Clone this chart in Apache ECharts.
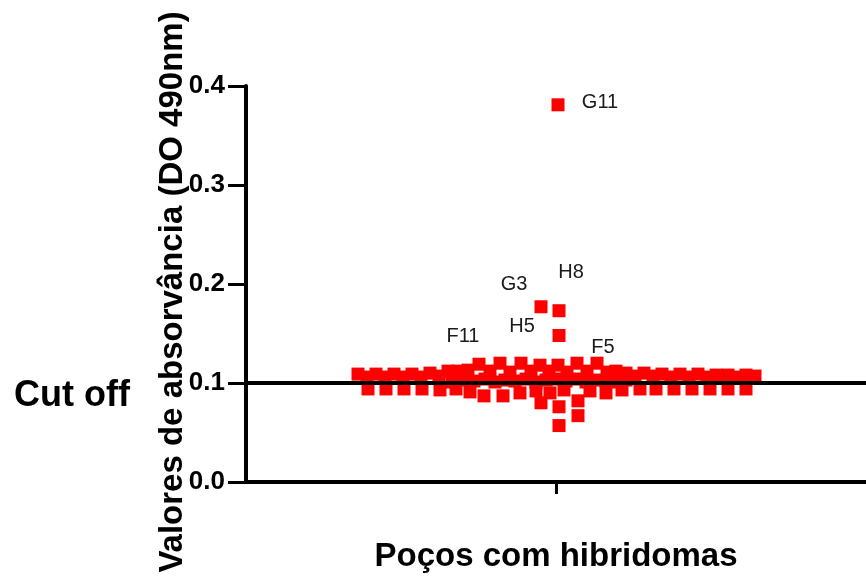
<!DOCTYPE html>
<html>
<head>
<meta charset="utf-8">
<script src="https://cdn.jsdelivr.net/npm/echarts@6/dist/echarts.min.js"></script>
<style>
  html, body { margin: 0; padding: 0; background: #fff; }
  #chart { width: 866px; height: 579px; }
</style>
</head>
<body>
<div id="chart"></div>
<script>
// horizontal spread of each well in the swarm (offset from the centre tick) and its OD reading
const swarmJitter = [
  // left flank, upper row
  -198, -189, -180, -171, -162, -153, -144, -135, -126, -117, -108,
  // left flank, lower row
  -188, -170, -152, -134, -116,
  // centre, top
  -56, -35, -16, 2, 21,
  // centre, upper
  -98, -88, -66, -46, -25, -7, 11, 31, 51, 60,
  // centre, middle
  -104, -93, -82, -71, -61, -51, -41, -30, -20, -10, 0, 10, 20, 30, 40, 50, 60, 70,
  // centre, lower
  -100, -86, -72, -53, -36, -20, -6, 8, 34, 50, 66, 84,
  // below the band
  -15, 3, 3, 22, 22,
  // right flank, upper row
  70, 79, 88, 97, 106, 115, 124, 133, 142, 151, 160, 169, 172, 181, 190, 199,
  // right flank, lower row
  100, 118, 136, 154, 172, 190
]
const swarmValues = [
  0.109, 0.106, 0.109, 0.106, 0.109, 0.106, 0.109, 0.106, 0.110, 0.107, 0.112,
  0.094, 0.094, 0.094, 0.094, 0.093,
  0.120, 0.120, 0.118, 0.118, 0.120,
  0.112, 0.113, 0.112, 0.111, 0.112, 0.112, 0.111, 0.112, 0.111, 0.112,
  0.101, 0.103, 0.102, 0.104, 0.101, 0.103, 0.102, 0.104, 0.101, 0.103, 0.104, 0.102, 0.104, 0.101, 0.103, 0.102, 0.101, 0.103,
  0.094, 0.091, 0.087, 0.087, 0.090, 0.092, 0.090, 0.093, 0.092, 0.090, 0.093, 0.094,
  0.080, 0.076, 0.057, 0.082, 0.067,
  0.110, 0.107, 0.110, 0.107, 0.109, 0.106, 0.109, 0.106, 0.109, 0.106, 0.108, 0.106, 0.108, 0.106, 0.108, 0.107,
  0.094, 0.094, 0.094, 0.094, 0.094, 0.094
]

// named wells
const wells = ['G11', 'G3', 'H8', 'H5', 'F11', 'F5']
const wellJitter = [2, -15, 3, 3, -77, 41]
const wellValues = [0.381, 0.177, 0.173, 0.148, 0.119, 0.120]
const wellLabelOffsets = [[42, -2], [-27, -22], [12, -38], [-37, -9], [-16, -28], [6, -16]]

const cutOff = 0.1
const yTicks = [0, 0.1, 0.2, 0.3, 0.4]

const chart = echarts.init(document.getElementById('chart'))
const boldFont = '"Liberation Sans", Arial, sans-serif'

chart.setOption({
  animation: false,
  grid: { left: 246, right: 0, top: 86, bottom: 97 },
  xAxis: {
    type: 'value',
    min: -310,
    max: 310,
    name: 'Poços com hibridomas',
    nameLocation: 'middle',
    nameGap: 58,
    nameTextStyle: { fontFamily: boldFont, fontWeight: 'bold', fontSize: 33, color: '#000' },
    axisLine: { onZero: false, lineStyle: { color: '#000', width: 4 } },
    axisTick: { show: true, customValues: [0], length: 12, lineStyle: { color: '#000', width: 3 } },
    axisLabel: { show: false },
    splitLine: { show: false }
  },
  yAxis: {
    type: 'value',
    min: yTicks[0],
    max: yTicks[yTicks.length - 1],
    interval: 0.1,
    name: 'Valores de absorvância (DO 490nm)',
    nameLocation: 'middle',
    nameMoveOverlap: false,
    nameGap: 57,
    nameTextStyle: { fontFamily: boldFont, fontWeight: 'bold', fontSize: 33, color: '#000', padding: [0, 16, 0, 0] },
    axisLine: { show: true, onZero: false, lineStyle: { color: '#000', width: 4 } },
    axisTick: { show: true, length: 18, lineStyle: { color: '#000', width: 3 } },
    axisLabel: {
      margin: 21,
      fontFamily: boldFont,
      fontWeight: 'bold',
      fontSize: 26,
      color: '#000',
      formatter: v => v.toFixed(1)
    },
    splitLine: { show: false }
  },
  graphic: [{
    type: 'text',
    left: 14,
    top: 378,
    style: { text: 'Cut off', font: 'bold 36px "Liberation Sans", Arial, sans-serif', fill: '#000' }
  }],
  series: [
    {
      type: 'scatter',
      symbol: 'rect',
      symbolSize: 13,
      itemStyle: { color: '#ff0000', opacity: 1 },
      data: swarmJitter.map((x, i) => [x, swarmValues[i]]),
      markLine: {
        silent: true,
        symbol: 'none',
        label: { show: false },
        lineStyle: { color: '#000', width: 4, type: 'solid' },
        data: [{ yAxis: cutOff }]
      },
      z: 3
    },
    {
      type: 'scatter',
      symbol: 'rect',
      symbolSize: 13,
      itemStyle: { color: '#ff0000', opacity: 1 },
      data: wells.map((w, i) => ({
        name: w,
        value: [wellJitter[i], wellValues[i]],
        label: {
          show: true,
          position: 'inside',
          offset: wellLabelOffsets[i],
          formatter: w,
          fontFamily: '"Liberation Sans", Arial, sans-serif',
          fontSize: 20,
          color: '#1a1a1a'
        }
      })),
      z: 3
    }
  ]
})
</script>
</body>
</html>
